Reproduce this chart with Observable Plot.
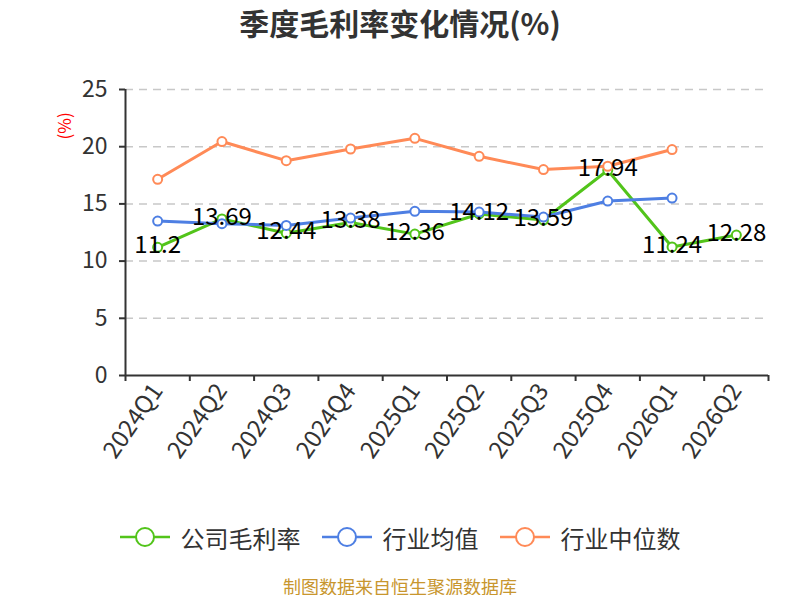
<!DOCTYPE html>
<html><head><meta charset="utf-8">
<script src="https://cdn.jsdelivr.net/npm/d3@7"></script>
<script src="https://cdn.jsdelivr.net/npm/@observablehq/plot@0.6"></script>
<style>
body{margin:0;background:#fff;font-family:"Noto Sans CJK SC",sans-serif;}
#wrap{width:800px;}
#title{height:44px;line-height:44px;text-align:center;font-size:30px;font-weight:bold;color:#333;}
#chart svg{display:block;}
#legend{height:54px;display:flex;justify-content:center;align-items:center;gap:21px;font-size:24px;color:#333;}
.item{display:flex;align-items:center;gap:11px;}
.item svg{display:block;}
#caption{height:18px;line-height:18px;padding-top:13px;text-align:center;font-size:18px;color:#c8962e;}
</style></head><body>
<div id="wrap">
<div id="title">季度毛利率变化情况(%)</div>
<div id="chart"></div>
<div id="legend"></div>
<div id="caption">制图数据来自恒生聚源数据库</div>
</div>
<script>
const quarters = ["2024Q1","2024Q2","2024Q3","2024Q4","2025Q1","2025Q2","2025Q3","2025Q4","2026Q1","2026Q2"];
const companyMargin = [11.2, 13.69, 12.44, 13.38, 12.36, 14.12, 13.59, 17.94, 11.24, 12.28];
const industryMean = [13.5, 13.27, 13.12, 13.76, 14.35, 14.29, 13.85, 15.25, 15.51];
const industryMedian = [17.15, 20.45, 18.78, 19.8, 20.73, 19.16, 18.0, 18.29, 19.75];
const seriesNames = ["公司毛利率", "行业均值", "行业中位数"];
const seriesColors = ["#52c41a", "#4e7fe3", "#ff8a57"];
const yTicks = [0, 5, 10, 15, 20, 25];
const gridTicks = [5, 10, 15, 20, 25];

const toRows = (vals) => vals.map((v, i) => ({i: i + 0.5, q: quarters[i], v}));
const company = toRows(companyMargin);
const mean = toRows(industryMean);
const median = toRows(industryMedian);
const boundaries = d3.range(quarters.length + 1);
const centers = quarters.map((q, i) => i + 0.5);

const lineMarks = (rows, color) => [
  Plot.line(rows, {x: "i", y: "v", stroke: color, strokeWidth: 3}),
  Plot.dot(rows, {x: "i", y: "v", r: 4.5, fill: "white", stroke: color, strokeWidth: 2})
];

const chart = Plot.plot({
  width: 800,
  height: 466,
  marginLeft: 125,
  marginRight: 32,
  marginTop: 45,
  marginBottom: 135,
  style: {fontFamily: "Noto Sans CJK SC, sans-serif", background: "white"},
  x: {type: "linear", domain: [0, quarters.length]},
  y: {domain: [0, 25]},
  marks: [
    Plot.ruleY(gridTicks, {stroke: "#c8c8c8", strokeWidth: 1.5, strokeDasharray: "8,6"}),
    Plot.axisY({ticks: yTicks, tickSize: 6, tickPadding: 12, fontSize: 23, fill: "#333", stroke: "#333", strokeWidth: 2, label: null}),
    Plot.axisX({ticks: boundaries, tickSize: 6, tickFormat: () => "", stroke: "#333", strokeWidth: 2, label: null}),
    Plot.axisX({ticks: centers, tickSize: 0, tickPadding: 11, tickRotate: -55, tickFormat: (d) => quarters[Math.round(d - 0.5)], fontSize: 24, fill: "#333", label: null}),
    Plot.ruleY([0], {stroke: "#333", strokeWidth: 2}),
    Plot.ruleX([0], {stroke: "#333", strokeWidth: 2}),
    ...lineMarks(company, seriesColors[0]),
    ...lineMarks(mean, seriesColors[1]),
    ...lineMarks(median, seriesColors[2]),
    Plot.text(company, {x: "i", y: "v", text: (d) => String(d.v), fontSize: 24, fill: "black", dy: -2, lineAnchor: "middle", textAnchor: "middle"}),
    Plot.text(["(%)"], {frameAnchor: "top-left", dx: -67, dy: 50, rotate: -90, fill: "red", fontSize: 17})
  ]
});
document.getElementById("chart").appendChild(chart);

const legend = document.getElementById("legend");
seriesNames.forEach((name, k) => {
  const item = document.createElement("div");
  item.className = "item";
  const c = seriesColors[k];
  item.innerHTML = `<svg width="50" height="22"><line x1="0" y1="11" x2="50" y2="11" stroke="${c}" stroke-width="2.5"/><circle cx="25" cy="11" r="9" fill="white" stroke="${c}" stroke-width="2"/></svg><span>${name}</span>`;
  legend.appendChild(item);
});
</script>
</body></html>
